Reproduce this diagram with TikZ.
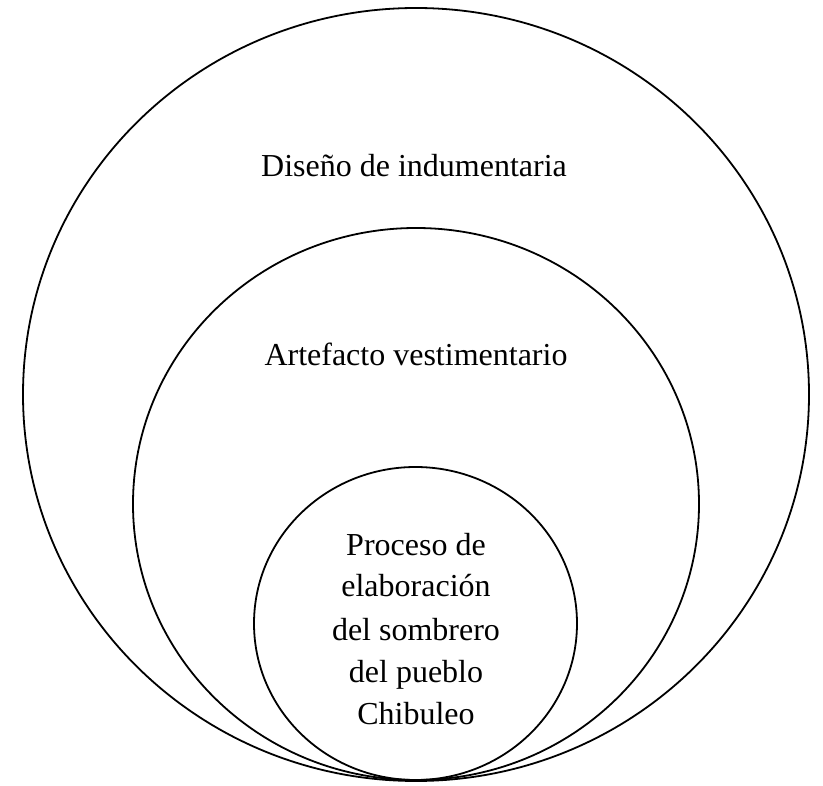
\documentclass[tikz,border=0pt]{standalone}
\usepackage{fontspec}
\setmainfont{Liberation Serif}
\begin{document}
\begin{tikzpicture}[x=1pt,y=-1pt,
  ring/.style={draw=black,line width=1.8pt},
  lbl/.style={anchor=base,inner sep=0pt,font=\fontsize{32}{38}\selectfont}]
\useasboundingbox (0,0) rectangle (823,786);
\coordinate (outerc) at (416,394.5);
\coordinate (midc) at (416,504);
\coordinate (innerc) at (415.5,623.5);
\draw[ring] (outerc) ellipse [x radius=393pt, y radius=386.5pt];
\draw[ring] (midc) ellipse [x radius=283pt, y radius=276pt];
\draw[ring] (innerc) ellipse [x radius=161.5pt, y radius=156.5pt];
\node[lbl] (t1) at (414,177) {Diseño de indumentaria};
\node[lbl] (t2) at (416,366) {Artefacto vestimentario};
\node[lbl] (l1) at (416,555) {Proceso de};
\node[lbl] (l2) at (416,597) {elaboración};
\node[lbl] (l3) at (416,640) {del sombrero};
\node[lbl] (l4) at (416,682) {del pueblo};
\node[lbl] (l5) at (416,724) {Chibuleo};
\end{tikzpicture}
\end{document}
